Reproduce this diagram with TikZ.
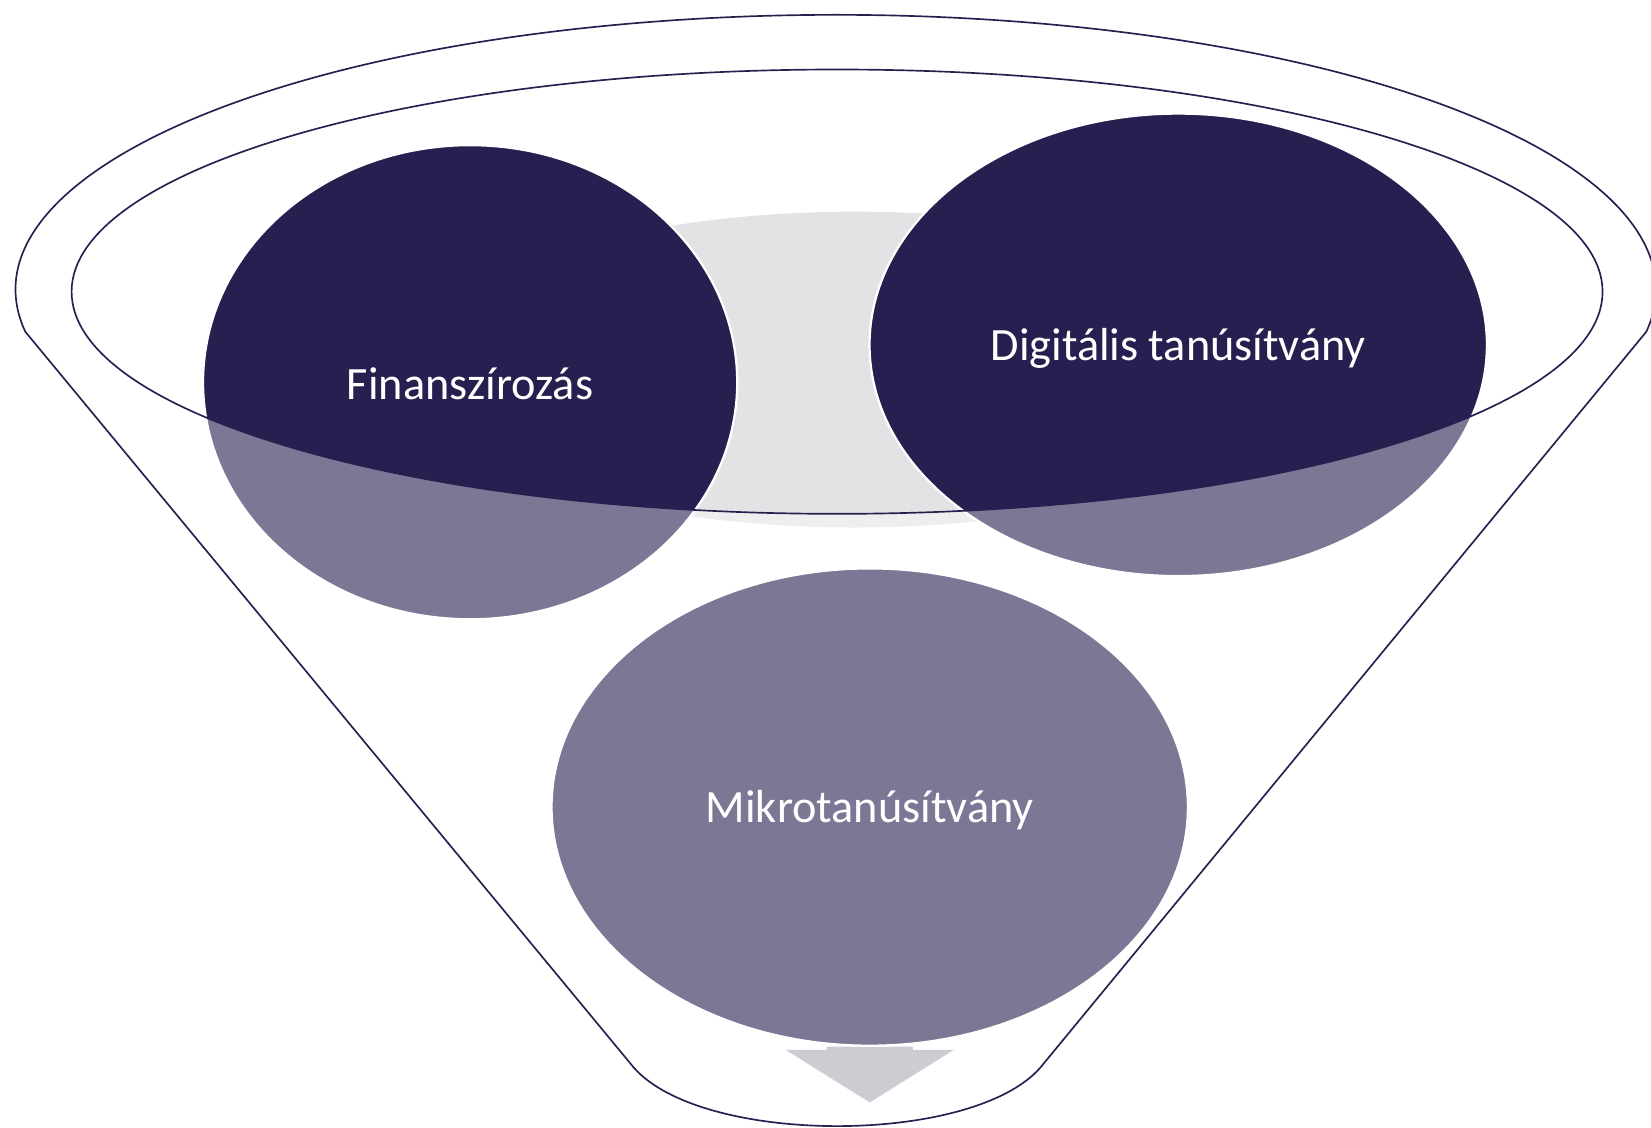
\documentclass[tikz,border=0pt]{standalone}
\usepackage{fontspec}
\setmainfont{Carlito}
\usetikzlibrary{shapes.geometric}
\definecolor{navy}{HTML}{262050}
\definecolor{greyell}{HTML}{E3E3E6}
\definecolor{arrowgrey}{HTML}{ACACB5}
\tikzset{
  circ/.style={ellipse, fill=navy, draw=white, line width=0.6pt, inner sep=0pt},
  lbl/.style={text=white, font=\fontsize{12.5}{15}\selectfont},
  outline/.style={draw=navy, line width=0.45pt},
}
\begin{document}
\begin{tikzpicture}[x=0.01cm, y=-0.01cm]
\useasboundingbox (0,0) rectangle (1568,1071.3);
% grey background ellipse
\fill[greyell] (812,351) ellipse[x radius=420, y radius=150];
% arrow
\fill[arrowgrey] (785,994) -- (867,994) -- (867,997) -- (906,997) -- (826,1047) -- (746,997) -- (785,997) -- cycle;
% circles
\node[circ, minimum width=5.07cm, minimum height=4.50cm] (fin) at (446.5,363) {};
\node[circ, minimum width=5.86cm, minimum height=4.39cm] (dig) at (1119,327.5) {};
\node[circ, minimum width=6.04cm, minimum height=4.53cm] (mik) at (826,766.5) {};
% funnel body (translucent white)
\fill[white, fill opacity=0.395, even odd rule]
  (602,1014) -- (24,315) arc[start angle=171.2, end angle=368.8, x radius=779, y radius=261]
  -- (988,1014) .. controls (923,1088) and (667,1088) .. (602,1014) -- cycle
  (795,277) ellipse[x radius=727, y radius=211];
% outlines
\draw[outline, line join=round]
  (602,1014) -- (24,315) arc[start angle=171.2, end angle=368.8, x radius=779, y radius=261]
  -- (988,1014) .. controls (923,1088) and (667,1088) .. (602,1014) -- cycle;
\draw[outline] (795,277) ellipse[x radius=727, y radius=211];
% texts on top
\node[lbl] (tfin) at ([yshift=-0.01cm]fin.center) {Finanszírozás};
\node[lbl] (tdig) at ([yshift=-0.03cm]dig.center) {Digitális tanúsítvány};
\node[lbl] (tmik) at ([yshift=-0.03cm]mik.center) {Mikrotanúsítvány};
\end{tikzpicture}
\end{document}
